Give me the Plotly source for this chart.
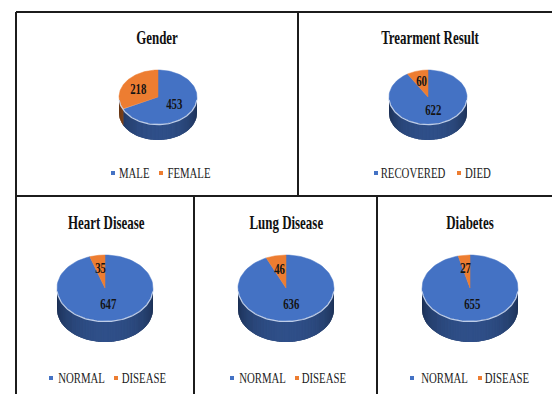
import numpy as np
import plotly.graph_objects as go

# ---- data -------------------------------------------------------------
titles = ["Gender", "Trearment Result", "Heart Disease", "Lung Disease", "Diabetes"]
gender_labels = ["MALE", "FEMALE"]
gender_counts = [453, 218]
treatment_labels = ["RECOVERED", "DIED"]
treatment_counts = [622, 60]
condition_labels = ["NORMAL", "DISEASE"]
heart_counts = [647, 35]
lung_counts = [636, 46]
diabetes_counts = [655, 27]

series = [
    (gender_labels, gender_counts),
    (treatment_labels, treatment_counts),
    (condition_labels, heart_counts),
    (condition_labels, lung_counts),
    (condition_labels, diabetes_counts),
]

# ---- styling / placement (pixel space of a 552x394 canvas) -------------
W, H = 552, 394
slice_colors = ["#4472C4", "#ED7D31"]
serif = "Liberation Serif, Times New Roman, serif"

top_pie = dict(rx=39, ry=27, depth=16, cy=97)
bottom_pie = dict(rx=48, ry=33, depth=21, cy=288)
panels = [
    dict(cx=158, title=(157, 38), legend_y=173, markers=[113, 161], texts=[134, 189], **top_pie),
    dict(cx=428, title=(430, 38), legend_y=173, markers=[376, 459], texts=[413, 478], **top_pie),
    dict(cx=105, title=(106, 223), legend_y=378, markers=[51, 116], texts=[81, 144], **bottom_pie),
    dict(cx=286, title=(286, 223), legend_y=378, markers=[232, 297], texts=[262, 324], **bottom_pie),
    dict(cx=470, title=(470, 223), legend_y=378, markers=[412, 480], texts=[444, 507], **bottom_pie),
]


def shade(hex_color, f):
    r, g, b = (int(hex_color[i:i + 2], 16) for i in (1, 3, 5))
    return "rgb(%d,%d,%d)" % (r * f, g * f, b * f)


def side_factor(theta):
    return 0.40 + 0.30 * (-np.cos(np.radians(theta)))


def rim(p, theta):
    """Point on the elliptical top face; theta in degrees, clockwise from 12 o'clock."""
    t = np.radians(theta)
    return p["cx"] + p["rx"] * np.sin(t), p["cy"] - p["ry"] * np.cos(t)


def band(p, th):
    xs, ys = rim(p, th)
    return np.concatenate([xs, xs[::-1]]), np.concatenate([ys, ys[::-1] + p["depth"]])


fig = go.Figure()
annotations = []
shapes = []

for (labels, values), p, title in zip(series, panels, titles):
    vals = np.asarray(values, dtype=float)
    bounds = np.concatenate([[0.0], np.cumsum(vals) / vals.sum() * 360.0])

    # side wall of the disc (front half only, 90..270 degrees)
    for k in range(len(vals)):
        a0, a1 = max(bounds[k], 90.0), min(bounds[k + 1], 270.0)
        if a1 <= a0:
            continue
        bx, by = band(p, np.linspace(a0, a1, 60))
        base = shade(slice_colors[k], 0.5)
        fig.add_trace(go.Scatter(x=bx, y=by, fill="toself", fillcolor=base, mode="lines",
                                 line=dict(width=0), hoverinfo="skip", showlegend=False))
        n = max(1, int(np.ceil((a1 - a0) / 2.0)))
        edges = np.linspace(a0, a1, n + 1)
        for s0, s1 in zip(edges[:-1], edges[1:]):
            bx, by = band(p, np.linspace(max(a0, s0 - 0.4), min(a1, s1 + 0.4), 3))
            col = shade(slice_colors[k], side_factor((s0 + s1) / 2))
            fig.add_trace(go.Scatter(x=bx, y=by, fill="toself", fillcolor=col, mode="lines",
                                     line=dict(width=0), hoverinfo="skip", showlegend=False))

    # top face wedges
    for k in range(len(vals)):
        th = np.linspace(bounds[k], bounds[k + 1], 90)
        xs, ys = rim(p, th)
        fig.add_trace(go.Scatter(
            x=np.concatenate([[p["cx"]], xs, [p["cx"]]]),
            y=np.concatenate([[p["cy"]], ys, [p["cy"]]]),
            fill="toself", fillcolor=slice_colors[k], mode="lines",
            line=dict(color=slice_colors[k], width=0.5),
            hoverinfo="skip", showlegend=False, name=labels[k]))

    # light edge along the front rim
    th = np.linspace(95, 265, 80)
    xs, ys = rim(p, th)
    fig.add_trace(go.Scatter(x=xs, y=ys + 0.6, mode="lines",
                             line=dict(color="rgba(205,218,242,0.9)", width=1.2),
                             hoverinfo="skip", showlegend=False))

    # value labels at the middle of each wedge
    for k in range(len(vals)):
        frac = vals[k] / vals.sum()
        mid = (bounds[k] + bounds[k + 1]) / 2
        rr = 0.5 if frac > 0.4 else 0.6
        t = np.radians(mid)
        lx = p["cx"] + rr * p["rx"] * np.sin(t)
        ly = p["cy"] - rr * p["ry"] * np.cos(t)
        annotations.append(dict(x=lx, y=ly, xref="x", yref="y", text="<b>%d</b>" % values[k],
                                showarrow=False, font=dict(family=serif, size=15, color="#141414"),
                                xanchor="center", yanchor="middle"))

    # title
    annotations.append(dict(x=p["title"][0], y=p["title"][1], xref="x", yref="y",
                            text="<b>%s</b>" % title, showarrow=False,
                            font=dict(family=serif, size=18, color="#111111"),
                            xanchor="center", yanchor="middle"))

    # legend: small square swatches with category names
    for k in range(len(labels)):
        mx = p["markers"][k]
        shapes.append(dict(type="rect", xref="x", yref="y",
                           x0=mx - 2, x1=mx + 2, y0=p["legend_y"] - 2, y1=p["legend_y"] + 2,
                           fillcolor=slice_colors[k], line=dict(width=0)))
        annotations.append(dict(x=p["texts"][k], y=p["legend_y"], xref="x", yref="y",
                                text=labels[k], showarrow=False,
                                font=dict(family=serif, size=15, color="#222222"),
                                xanchor="center", yanchor="middle"))

# panel frames
frame = dict(color="#1c1c1c", width=2)
for x0, y0, x1, y1 in [
    (16, 12, W, 12), (16, 12, 16, H), (16, 196, W, 196),
    (298, 12, 298, 196), (194, 196, 194, H), (377, 196, 377, H),
]:
    shapes.append(dict(type="line", xref="x", yref="y", x0=x0, y0=y0, x1=x1, y1=y1, line=frame))

fig.update_layout(
    width=W, height=H,
    margin=dict(l=0, r=0, t=0, b=0),
    paper_bgcolor="white", plot_bgcolor="white",
    xaxis=dict(range=[0, W], visible=False, fixedrange=True),
    yaxis=dict(range=[H, 0], visible=False, fixedrange=True),
    showlegend=False,
    annotations=annotations,
    shapes=shapes,
)

# narrow the serif lettering horizontally, like the condensed print it imitates
condense = """
var st = document.createElement('style');
st.textContent = '.annotation-text{transform-box:fill-box;transform-origin:center;transform:scaleX(0.72);}';
document.head.appendChild(st);
"""

fig.write_html("out.html", post_script=condense, config={"displayModeBar": False})
